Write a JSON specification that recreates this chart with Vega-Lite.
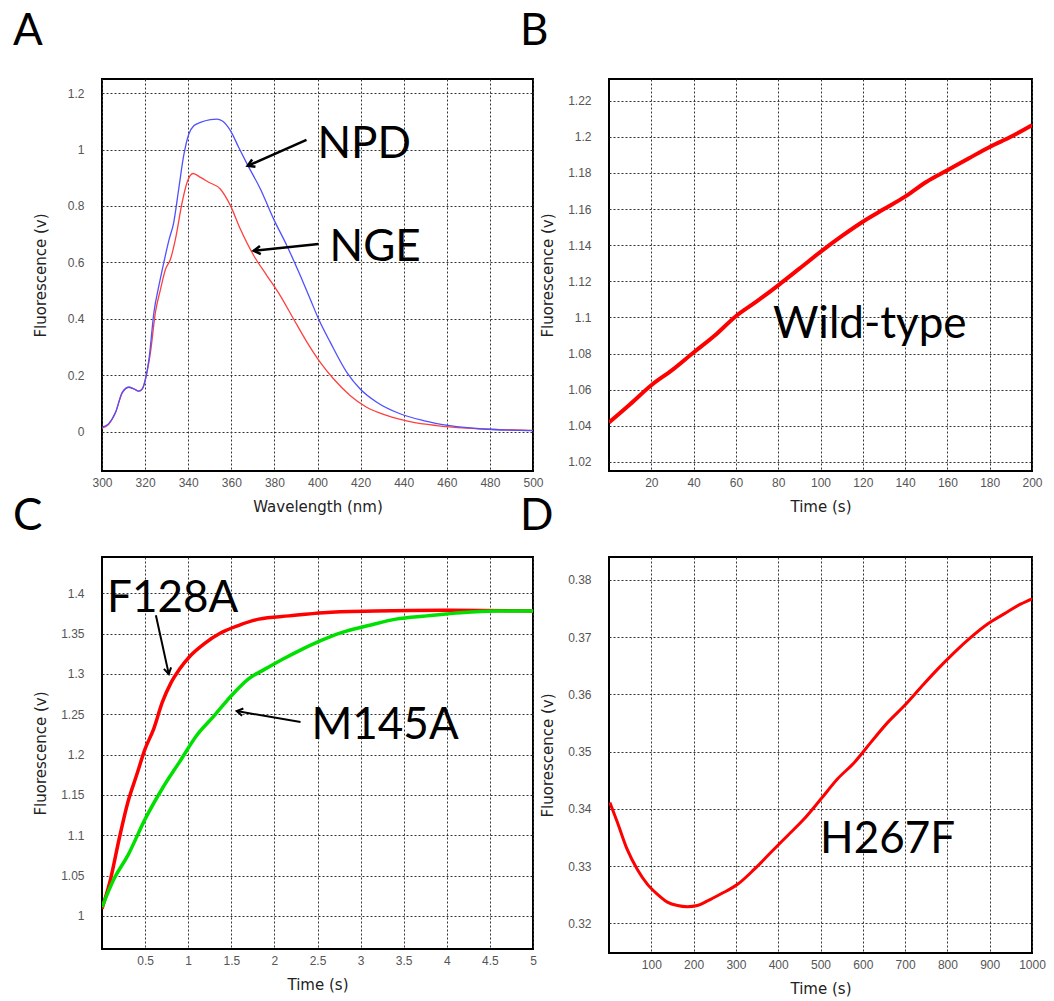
{
  "$schema": "https://vega.github.io/schema/vega-lite/v6.json",
  "background": "white",
  "padding": {"left": 12, "top": 9, "right": 0, "bottom": 0},
  "columns": 2,
  "bounds": "flush",
  "spacing": {"row": 86, "column": 76},
  "resolve": {"scale": {"color": "independent"}},
  "config": {
    "view": {"stroke": "black", "strokeWidth": 2},
    "axis": {
      "grid": true, "gridColor": "#333333", "gridDash": [2, 2], "gridWidth": 1, "gridOpacity": 1,
      "domain": false, "ticks": false,
      "labelFont": "Liberation Sans", "labelFontSize": 12, "labelColor": "#555555",
      "labelOverlap": false, "labelFlush": false,
      "titleFont": "DejaVu Sans", "titleFontSize": 15, "titleFontWeight": "normal", "titleColor": "#222222"
    },
    "axisY": {"labelPadding": 18, "titleX": -62, "titleBaseline": "middle"},
    "axisX": {"labelPadding": 6, "titleY": 35, "titleBaseline": "middle"},
    "title": {"font": "Lato", "fontSize": 44, "fontWeight": "normal", "anchor": "start", "frame": "group", "baseline": "alphabetic", "dx": -89, "color": "black"}
  },
  "datasets": {
    "spectra": [
      {"x": 300, "y": 0.012, "s": "NGE"}, {"x": 303, "y": 0.025, "s": "NGE"}, {"x": 306.3, "y": 0.068, "s": "NGE"},
      {"x": 309.4, "y": 0.137, "s": "NGE"}, {"x": 312.5, "y": 0.157, "s": "NGE"}, {"x": 314.8, "y": 0.151, "s": "NGE"},
      {"x": 317.1, "y": 0.143, "s": "NGE"}, {"x": 318.7, "y": 0.151, "s": "NGE"}, {"x": 320.2, "y": 0.187, "s": "NGE"},
      {"x": 322.5, "y": 0.281, "s": "NGE"}, {"x": 324.8, "y": 0.423, "s": "NGE"}, {"x": 327.2, "y": 0.506, "s": "NGE"},
      {"x": 329.5, "y": 0.576, "s": "NGE"}, {"x": 331.8, "y": 0.612, "s": "NGE"}, {"x": 334.1, "y": 0.683, "s": "NGE"},
      {"x": 337.2, "y": 0.813, "s": "NGE"}, {"x": 339.5, "y": 0.884, "s": "NGE"}, {"x": 342.3, "y": 0.915, "s": "NGE"},
      {"x": 345.7, "y": 0.901, "s": "NGE"}, {"x": 349.5, "y": 0.884, "s": "NGE"}, {"x": 354.9, "y": 0.86, "s": "NGE"},
      {"x": 359.6, "y": 0.801, "s": "NGE"}, {"x": 364.2, "y": 0.718, "s": "NGE"}, {"x": 370.4, "y": 0.624, "s": "NGE"},
      {"x": 376.5, "y": 0.553, "s": "NGE"}, {"x": 382.7, "y": 0.482, "s": "NGE"}, {"x": 388.9, "y": 0.399, "s": "NGE"},
      {"x": 395.1, "y": 0.317, "s": "NGE"}, {"x": 401.2, "y": 0.246, "s": "NGE"}, {"x": 407.4, "y": 0.187, "s": "NGE"},
      {"x": 415.1, "y": 0.128, "s": "NGE"}, {"x": 422.8, "y": 0.086, "s": "NGE"}, {"x": 432.1, "y": 0.057, "s": "NGE"},
      {"x": 442.9, "y": 0.035, "s": "NGE"}, {"x": 455.2, "y": 0.021, "s": "NGE"}, {"x": 469.1, "y": 0.012, "s": "NGE"},
      {"x": 484.6, "y": 0.007, "s": "NGE"}, {"x": 500, "y": 0.004, "s": "NGE"},
      {"x": 300, "y": 0.015, "s": "NPD"}, {"x": 303, "y": 0.027, "s": "NPD"}, {"x": 306.3, "y": 0.068, "s": "NPD"},
      {"x": 309.4, "y": 0.139, "s": "NPD"}, {"x": 312.5, "y": 0.157, "s": "NPD"}, {"x": 314.8, "y": 0.151, "s": "NPD"},
      {"x": 317.1, "y": 0.143, "s": "NPD"}, {"x": 318.7, "y": 0.151, "s": "NPD"}, {"x": 320.2, "y": 0.187, "s": "NPD"},
      {"x": 321.8, "y": 0.257, "s": "NPD"}, {"x": 324.1, "y": 0.423, "s": "NPD"}, {"x": 326.4, "y": 0.517, "s": "NPD"},
      {"x": 328.7, "y": 0.6, "s": "NPD"}, {"x": 331.0, "y": 0.677, "s": "NPD"}, {"x": 333.3, "y": 0.742, "s": "NPD"},
      {"x": 335.6, "y": 0.86, "s": "NPD"}, {"x": 337.9, "y": 0.978, "s": "NPD"}, {"x": 340.3, "y": 1.055, "s": "NPD"},
      {"x": 342.6, "y": 1.084, "s": "NPD"}, {"x": 345.7, "y": 1.096, "s": "NPD"}, {"x": 350.3, "y": 1.106, "s": "NPD"},
      {"x": 353.4, "y": 1.108, "s": "NPD"}, {"x": 355.7, "y": 1.102, "s": "NPD"}, {"x": 359.6, "y": 1.067, "s": "NPD"},
      {"x": 363.4, "y": 1.008, "s": "NPD"}, {"x": 367.3, "y": 0.949, "s": "NPD"}, {"x": 373.5, "y": 0.86, "s": "NPD"},
      {"x": 379.6, "y": 0.754, "s": "NPD"}, {"x": 385.8, "y": 0.659, "s": "NPD"}, {"x": 392.0, "y": 0.553, "s": "NPD"},
      {"x": 396.6, "y": 0.47, "s": "NPD"}, {"x": 400.5, "y": 0.399, "s": "NPD"}, {"x": 405.9, "y": 0.317, "s": "NPD"},
      {"x": 413.6, "y": 0.21, "s": "NPD"}, {"x": 419.8, "y": 0.151, "s": "NPD"}, {"x": 427.5, "y": 0.104, "s": "NPD"},
      {"x": 438.3, "y": 0.063, "s": "NPD"}, {"x": 449.1, "y": 0.039, "s": "NPD"}, {"x": 461.4, "y": 0.021, "s": "NPD"},
      {"x": 476.9, "y": 0.009, "s": "NPD"}, {"x": 493.8, "y": 0.004, "s": "NPD"}, {"x": 500, "y": 0.003, "s": "NPD"}
    ],
    "a_labels": [{"x": 400, "y": 0.97, "label": "NPD"}, {"x": 405.6, "y": 0.605, "label": "NGE"}],
    "a_arrows": [{"x": 394.9, "y": 1.034, "x2": 367.6, "y2": 0.942}, {"x": 400.5, "y": 0.665, "x2": 370.4, "y2": 0.641}],
    "a_head1": [{"x": 367.6, "y": 0.942}],
    "a_head2": [{"x": 370.4, "y": 0.641}],
    "wildtype": [
      {"x": 0, "y": 1.0419}, {"x": 10, "y": 1.052}, {"x": 20, "y": 1.0625}, {"x": 30, "y": 1.071},
      {"x": 40, "y": 1.0806}, {"x": 50, "y": 1.09}, {"x": 60, "y": 1.1007}, {"x": 70, "y": 1.109},
      {"x": 80, "y": 1.1178}, {"x": 90, "y": 1.127}, {"x": 100, "y": 1.1363}, {"x": 110, "y": 1.145},
      {"x": 120, "y": 1.153}, {"x": 130, "y": 1.16}, {"x": 140, "y": 1.1669}, {"x": 150, "y": 1.175},
      {"x": 160, "y": 1.1815}, {"x": 170, "y": 1.188}, {"x": 180, "y": 1.1944}, {"x": 190, "y": 1.2},
      {"x": 200, "y": 1.2064}
    ],
    "b_label": [{"x": 77.5, "y": 1.0889, "label": "Wild-type"}],
    "mutants": [
      {"x": 0, "y": 1.009, "s": "F128A"}, {"x": 0.1, "y": 1.046, "s": "F128A"}, {"x": 0.2, "y": 1.096, "s": "F128A"},
      {"x": 0.3, "y": 1.141, "s": "F128A"}, {"x": 0.4, "y": 1.174, "s": "F128A"}, {"x": 0.5, "y": 1.207, "s": "F128A"},
      {"x": 0.6, "y": 1.232, "s": "F128A"}, {"x": 0.7, "y": 1.265, "s": "F128A"}, {"x": 0.8, "y": 1.289, "s": "F128A"},
      {"x": 0.9, "y": 1.306, "s": "F128A"}, {"x": 1.02, "y": 1.322, "s": "F128A"}, {"x": 1.18, "y": 1.337, "s": "F128A"},
      {"x": 1.38, "y": 1.351, "s": "F128A"}, {"x": 1.58, "y": 1.36, "s": "F128A"}, {"x": 1.82, "y": 1.368, "s": "F128A"},
      {"x": 2.17, "y": 1.372, "s": "F128A"}, {"x": 2.57, "y": 1.376, "s": "F128A"}, {"x": 3.17, "y": 1.378, "s": "F128A"},
      {"x": 3.96, "y": 1.379, "s": "F128A"}, {"x": 5, "y": 1.378, "s": "F128A"},
      {"x": 0, "y": 1.011, "s": "M145A"}, {"x": 0.14, "y": 1.046, "s": "M145A"}, {"x": 0.3, "y": 1.075, "s": "M145A"},
      {"x": 0.5, "y": 1.12, "s": "M145A"}, {"x": 0.7, "y": 1.158, "s": "M145A"}, {"x": 0.9, "y": 1.191, "s": "M145A"},
      {"x": 1.1, "y": 1.224, "s": "M145A"}, {"x": 1.3, "y": 1.248, "s": "M145A"}, {"x": 1.5, "y": 1.273, "s": "M145A"},
      {"x": 1.7, "y": 1.294, "s": "M145A"}, {"x": 1.89, "y": 1.306, "s": "M145A"}, {"x": 2.09, "y": 1.318, "s": "M145A"},
      {"x": 2.29, "y": 1.329, "s": "M145A"}, {"x": 2.53, "y": 1.341, "s": "M145A"}, {"x": 2.77, "y": 1.351, "s": "M145A"},
      {"x": 3.09, "y": 1.36, "s": "M145A"}, {"x": 3.41, "y": 1.368, "s": "M145A"}, {"x": 3.77, "y": 1.372, "s": "M145A"},
      {"x": 4.16, "y": 1.376, "s": "M145A"}, {"x": 4.56, "y": 1.378, "s": "M145A"}, {"x": 5, "y": 1.378, "s": "M145A"}
    ],
    "c_labels": [{"x": 0.058, "y": 1.3765, "label": "F128A"}, {"x": 2.43, "y": 1.2193, "label": "M145A"}],
    "c_arrows": [{"x": 0.625, "y": 1.3728, "x2": 0.775, "y2": 1.2998}, {"x": 2.303, "y": 1.2403, "x2": 1.5625, "y2": 1.254}],
    "c_head1": [{"x": 0.775, "y": 1.2998}],
    "c_head2": [{"x": 1.5625, "y": 1.254}],
    "h267f": [
      {"x": 2, "y": 0.3411}, {"x": 20, "y": 0.3376}, {"x": 43, "y": 0.3329}, {"x": 67, "y": 0.3294},
      {"x": 91, "y": 0.3268}, {"x": 114, "y": 0.3251}, {"x": 138, "y": 0.3237}, {"x": 162, "y": 0.3231},
      {"x": 185, "y": 0.3229}, {"x": 209, "y": 0.3231}, {"x": 233, "y": 0.3239}, {"x": 264, "y": 0.3251},
      {"x": 304, "y": 0.3268}, {"x": 343, "y": 0.3294}, {"x": 383, "y": 0.3324}, {"x": 422, "y": 0.3353},
      {"x": 461, "y": 0.3382}, {"x": 501, "y": 0.3417}, {"x": 540, "y": 0.3452}, {"x": 580, "y": 0.3481},
      {"x": 619, "y": 0.3516}, {"x": 659, "y": 0.3551}, {"x": 698, "y": 0.358}, {"x": 737, "y": 0.3612},
      {"x": 777, "y": 0.3644}, {"x": 816, "y": 0.3673}, {"x": 856, "y": 0.37}, {"x": 895, "y": 0.3723},
      {"x": 935, "y": 0.3741}, {"x": 974, "y": 0.3758}, {"x": 1000, "y": 0.3767}
    ],
    "d_label": [{"x": 499, "y": 0.3323, "label": "H267F"}]
  },
  "concat": [
    {
      "width": 431, "height": 392,
      "title": {"text": "A", "offset": 25},
      "encoding": {
        "x": {"field": "x", "type": "quantitative", "title": "Wavelength (nm)",
              "scale": {"domain": [300, 500], "nice": false, "zero": false},
              "axis": {"values": [300, 320, 340, 360, 380, 400, 420, 440, 460, 480, 500]}},
        "y": {"field": "y", "type": "quantitative", "title": "Fluorescence (v)",
              "scale": {"domain": [-0.14, 1.25], "nice": false, "zero": false},
              "axis": {"values": [0, 0.2, 0.4, 0.6, 0.8, 1, 1.2], "labelExpr": "'' + datum.value"}}
      },
      "layer": [
        {"data": {"name": "spectra"}, "mark": {"type": "line", "strokeWidth": 1.3, "clip": true, "interpolate": "monotone"},
         "encoding": {"color": {"field": "s", "type": "nominal", "scale": {"domain": ["NGE", "NPD"], "range": ["#ff4040", "#5050ff"]}, "legend": null}}},
        {"data": {"name": "a_arrows"}, "mark": {"type": "rule", "strokeWidth": 2.5, "color": "black"},
         "encoding": {"x2": {"field": "x2"}, "y2": {"field": "y2"}}},
        {"data": {"name": "a_head1"}, "mark": {"type": "point", "shape": "M -1 -0.6 L 0 0 L -1 0.6", "filled": false, "stroke": "black", "strokeWidth": 2.5, "size": 180, "angle": 156, "opacity": 1}},
        {"data": {"name": "a_head2"}, "mark": {"type": "point", "shape": "M -1 -0.6 L 0 0 L -1 0.6", "filled": false, "stroke": "black", "strokeWidth": 2.5, "size": 180, "angle": 174, "opacity": 1}},
        {"data": {"name": "a_labels"}, "mark": {"type": "text", "font": "Lato", "fontSize": 44, "align": "left", "baseline": "alphabetic", "color": "black"},
         "encoding": {"text": {"field": "label"}}}
      ]
    },
    {
      "width": 423, "height": 392,
      "title": {"text": "B", "offset": 25},
      "encoding": {
        "x": {"field": "x", "type": "quantitative", "title": "Time (s)",
              "scale": {"domain": [0, 200], "nice": false, "zero": false},
              "axis": {"values": [20, 40, 60, 80, 100, 120, 140, 160, 180, 200]}},
        "y": {"field": "y", "type": "quantitative", "title": "Fluorescence (v)",
              "scale": {"domain": [1.015, 1.232], "nice": false, "zero": false},
              "axis": {"values": [1.02, 1.04, 1.06, 1.08, 1.1, 1.12, 1.14, 1.16, 1.18, 1.2, 1.22], "labelExpr": "'' + datum.value"}}
      },
      "layer": [
        {"data": {"name": "wildtype"}, "mark": {"type": "line", "strokeWidth": 4, "color": "#ff0000", "clip": true, "interpolate": "monotone"}},
        {"data": {"name": "b_label"}, "mark": {"type": "text", "font": "Lato", "fontSize": 44, "align": "left", "baseline": "alphabetic", "color": "black"},
         "encoding": {"text": {"field": "label"}}}
      ]
    },
    {
      "width": 431, "height": 392,
      "title": {"text": "C", "offset": 18},
      "encoding": {
        "x": {"field": "x", "type": "quantitative", "title": "Time (s)",
              "scale": {"domain": [0, 5], "nice": false, "zero": false},
              "axis": {"values": [0.5, 1, 1.5, 2, 2.5, 3, 3.5, 4, 4.5, 5], "labelExpr": "'' + datum.value"}},
        "y": {"field": "y", "type": "quantitative", "title": "Fluorescence (v)",
              "scale": {"domain": [0.959, 1.445], "nice": false, "zero": false},
              "axis": {"values": [1, 1.05, 1.1, 1.15, 1.2, 1.25, 1.3, 1.35, 1.4], "labelExpr": "'' + datum.value"}}
      },
      "layer": [
        {"data": {"name": "mutants"}, "mark": {"type": "line", "strokeWidth": 3.5, "clip": true, "interpolate": "monotone"},
         "encoding": {"color": {"field": "s", "type": "nominal", "scale": {"domain": ["F128A", "M145A"], "range": ["#ff0000", "#00e000"]}, "legend": null}}},
        {"data": {"name": "c_arrows"}, "mark": {"type": "rule", "strokeWidth": 2, "color": "black"},
         "encoding": {"x2": {"field": "x2"}, "y2": {"field": "y2"}}},
        {"data": {"name": "c_head1"}, "mark": {"type": "point", "shape": "M -1 -0.6 L 0 0 L -1 0.6", "filled": false, "stroke": "black", "strokeWidth": 2, "size": 150, "angle": 77.6, "opacity": 1}},
        {"data": {"name": "c_head2"}, "mark": {"type": "point", "shape": "M -1 -0.6 L 0 0 L -1 0.6", "filled": false, "stroke": "black", "strokeWidth": 2, "size": 150, "angle": 190, "opacity": 1}},
        {"data": {"name": "c_labels"}, "mark": {"type": "text", "font": "Lato", "fontSize": 44, "align": "left", "baseline": "alphabetic", "color": "black"},
         "encoding": {"text": {"field": "label"}}}
      ]
    },
    {
      "width": 423, "height": 396,
      "title": {"text": "D", "offset": 18},
      "encoding": {
        "x": {"field": "x", "type": "quantitative", "title": "Time (s)",
              "scale": {"domain": [0, 1000], "nice": false, "zero": false},
              "axis": {"values": [100, 200, 300, 400, 500, 600, 700, 800, 900, 1000], "labelExpr": "'' + datum.value"}},
        "y": {"field": "y", "type": "quantitative", "title": "Fluorescence (v)",
              "scale": {"domain": [0.3148, 0.384], "nice": false, "zero": false},
              "axis": {"values": [0.32, 0.33, 0.34, 0.35, 0.36, 0.37, 0.38], "labelExpr": "'' + datum.value"}}
      },
      "layer": [
        {"data": {"name": "h267f"}, "mark": {"type": "line", "strokeWidth": 3, "color": "#ff0000", "clip": true, "interpolate": "monotone"}},
        {"data": {"name": "d_label"}, "mark": {"type": "text", "font": "Lato", "fontSize": 44, "align": "left", "baseline": "alphabetic", "color": "black"},
         "encoding": {"text": {"field": "label"}}}
      ]
    }
  ]
}
